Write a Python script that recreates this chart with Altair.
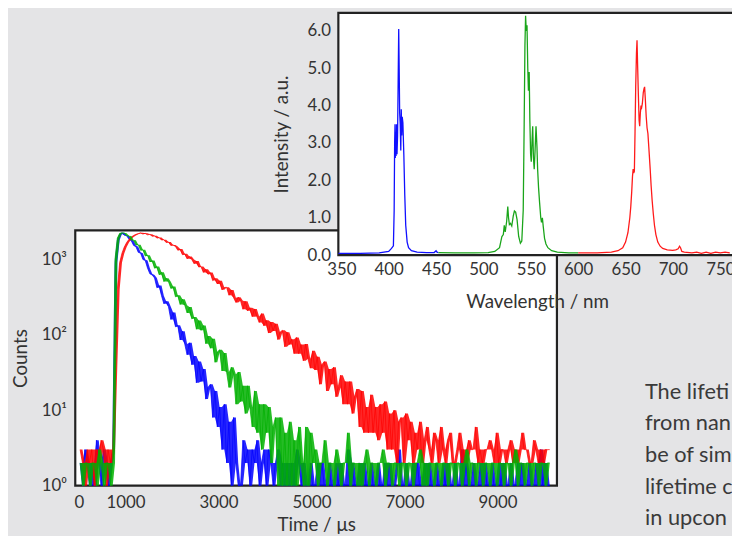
import altair as alt
import pandas as pd

# ---------------- decay curves (counts per channel) ----------------
T_START = 25      # first channel time, µs
T_STEP = 50       # channel width, µs

BLUE_COUNTS = [
    2, 1, 3, 2, 1, 2, 1, 4, 2, 1, 3, 2, 1, 2, 3,
    900, 1800, 2150, 2230, 2080, 2040, 1830, 1750, 1520, 1460, 1230, 1200, 990, 960, 760,
    639, 617, 564, 419, 448, 328, 257, 277, 234, 159,
    196, 127, 133, 85, 111, 75, 54, 78, 40, 52,
    23, 44, 24, 35, 14, 20, 22, 8, 18, 6,
    11, 3, 12, 2, 7, 1, 8, 2, 1,
    1, 4, 2, 3, 1, 3, 2, 4, 1, 2, 3, 1, 3, 2, 1, 2, 3, 1, 2, 1,
    2, 1, 2, 1, 3, 2, 1, 2, 1, 1, 2, 1, 1, 2, 1, 2, 1, 1, 2, 1,
    1, 2, 1, 2, 1, 1, 3, 1, 2, 1, 1, 2, 1, 2, 1, 1, 2, 1, 1, 2,
    1, 1, 2, 1, 2, 1, 1, 2, 3, 1, 1, 2, 1, 1, 2, 1, 2, 1, 1, 2,
    1, 2, 1, 1, 2, 1, 1, 2, 1, 2, 1, 1, 2, 1, 1, 3, 1, 2, 1, 1,
    2, 1, 1, 2, 1, 2, 1, 1, 2, 1, 1, 2, 1, 2, 1, 1, 2, 1, 1, 2,
    1, 2, 1, 1, 2, 1, 1, 2, 1, 3, 1, 2, 1, 1,
]

RED_COUNTS = [
    3, 2, 1, 3, 2, 3, 1, 3, 2, 4, 3, 1, 3, 2, 3,
    40, 400, 900, 1200, 1450, 1660, 1830, 1960, 2060, 2130, 2180,
    2230, 2150, 2200, 2100, 2130, 2010, 2040, 1900, 1930, 1790, 1810, 1660, 1690, 1520, 1540,
    1477, 1313, 1359, 1145, 1175, 1011, 1088, 993, 872, 944,
    786, 797, 668, 735, 632, 664, 520, 558, 469, 518,
    392, 421, 424, 333, 391, 309, 267, 314, 281, 217,
    276, 207, 227, 173, 219, 174, 145, 190, 131, 155,
    105, 147, 112, 139, 86, 108, 114, 69, 108, 74,
    87, 56, 92, 56, 74, 45, 75, 48, 36, 61,
    34, 51, 22, 40, 44, 18, 35, 22, 37, 15,
    20, 29, 12, 24, 12, 24, 9, 15, 19, 6,
    18, 5, 11, 5, 16, 5, 11, 4, 12, 5,
    13, 3, 9, 3, 10, 2, 7, 8, 2, 9,
    4, 7, 2, 5, 3, 7, 2, 4, 6, 3, 2, 5, 4, 2, 6, 3, 2, 4, 5, 2,
    2, 3, 5, 2, 3, 2, 4, 3, 3, 6, 2, 3, 2, 3, 3, 4, 3, 2, 5, 2,
    3, 3, 2, 3, 4, 2, 3, 2, 3, 5, 3, 3, 2, 2, 4, 3, 2, 3, 2, 3, 3, 3,
]

GREEN_COUNTS = [
    2, 1, 2, 2, 1, 2, 2, 1, 3, 2, 1, 2, 2, 1, 2,
    1000, 1900, 2200,
    2230, 2200, 2040, 2020, 1790, 1780, 1540, 1550, 1310, 1330,
    1100, 1130, 920, 960, 760, 800, 620, 670, 505, 560,
    503, 409, 433, 317, 333, 251, 294, 246, 194, 232,
    162, 171, 118, 154, 114, 132, 76, 96, 66, 88,
    43, 59, 63, 33, 57, 32, 20, 37, 30, 12,
    32, 13, 21, 9, 21, 11, 6, 18, 5, 12,
    3, 12, 5, 11, 2, 6, 8, 1, 8, 1,
    5, 1, 7, 1, 4, 1, 6, 2, 1, 6,
    1, 5,
    2, 3, 1, 2, 2, 4, 1, 2, 2, 1, 3, 2, 1, 2, 2, 5, 1, 2, 2, 1,
    2, 1, 2, 3, 1, 2, 2, 1, 2, 2, 3, 1, 2, 2, 1, 2, 2, 1, 2, 2,
    1, 2, 2, 1, 2, 2, 3, 1, 2, 1, 2, 2, 1, 2, 2, 1, 2, 2, 1, 2,
    2, 1, 2, 2, 1, 2, 3, 1, 2, 2, 1, 2, 2, 1, 2, 2, 1, 2, 2, 1,
    2, 2, 1, 2, 2, 1, 2, 3, 1, 2, 2, 1, 2, 2, 1, 2, 2, 1, 2, 2, 1, 2, 2,
]

DECAY_T_DOMAIN = [-80, 10280]
DECAY_C_DOMAIN = [1, 2400]
DECAY_T_TICKS = [0, 1000, 3000, 5000, 7000, 9000]
DECAY_C_TICKS = [1, 10, 100, 1000]

# ---------------- emission spectrum ----------------
BLUE_WL = [347, 370, 390, 400, 403, 405, 405.8, 406.3, 406.7, 407.0, 407.4, 407.8, 408.3, 408.8,
           409.4, 410.0, 410.6, 411.1, 411.6, 412.2, 412.8, 413.3, 413.8, 414.3, 415.0, 416.0,
           417.0, 418.0, 419.5, 421, 424, 430, 440, 448, 450, 451, 452.5]
BLUE_I = [0.05, 0.05, 0.06, 0.10, 0.18, 0.25, 1.2, 3.0, 3.5, 2.6, 3.3, 2.65, 3.5, 2.7,
          3.2, 4.6, 6.05, 5.0, 3.8, 3.5, 2.8, 3.9, 3.2, 3.7, 3.55, 2.7,
          1.6, 0.8, 0.35, 0.2, 0.12, 0.08, 0.07, 0.07, 0.12, 0.08, 0.07]

GREEN_WL = [452.5, 470, 490, 505, 512, 517, 519.5, 521.0, 522.0, 523.0, 524.5, 525.7, 526.5, 527.4,
            528.5, 529.9, 531.5, 532.7, 534, 535.5, 537.2, 539.0, 540.5, 542.0, 543.0, 543.8,
            544.5, 545.2, 546.0, 546.8, 547.5, 548.3, 549.0, 549.8, 550.5, 551.2, 552.0, 552.8,
            553.6, 554.5, 555.5, 556.5, 557.2, 558.2, 559.3, 560.5, 561.3, 562.2, 563.2, 564.5,
            566, 568, 572, 578, 590, 600]
GREEN_I = [0.07, 0.06, 0.06, 0.07, 0.1, 0.2, 0.5, 0.55, 0.8, 0.62, 0.9, 1.3, 1.0, 0.82,
           0.85, 0.78, 1.05, 1.18, 1.15, 0.95, 0.5, 0.32, 0.38, 1.2, 3.5, 5.6,
           6.4, 6.0, 6.15, 5.0, 4.4, 4.9, 3.6, 2.7, 2.5, 3.0, 3.45, 2.6,
           2.3, 2.8, 3.45, 2.9, 2.3, 1.8, 1.4, 1.0, 0.88, 1.0, 0.75, 0.45,
           0.3, 0.2, 0.12, 0.08, 0.06, 0.06]

RED_WL = [600, 620, 635, 642, 647, 650, 652.5, 654.5, 655.5, 656.5, 657.3, 658.0, 658.6, 659.3,
          660.0, 660.7, 661.5, 662.1, 662.8, 663.5, 664.3, 664.9, 665.6, 666.3, 667.0, 667.7,
          668.7, 669.5, 670.1, 670.8, 671.8, 672.7, 673.6, 674.5, 676.0, 677.0, 678.1, 679.3,
          680.5, 682, 684.0, 686.5, 689.2, 694, 699.7, 703, 705.5, 707.0, 708.0, 709.4,
          712, 720, 725, 730, 735, 740, 745, 750, 755, 760]
RED_I = [0.06, 0.06, 0.08, 0.12, 0.2, 0.35, 0.6, 1.0, 1.3, 1.7, 2.1, 2.3, 2.2, 2.25,
         3.3, 4.5, 5.4, 5.75, 5.0, 4.3, 3.6, 3.45, 3.8, 4.0, 3.95, 4.05,
         4.35, 4.45, 4.5, 4.2, 3.7, 3.4, 3.25, 2.9, 2.3, 1.85, 1.45, 1.1,
         0.8, 0.55, 0.35, 0.24, 0.18, 0.14, 0.13, 0.14, 0.17, 0.24, 0.2, 0.1,
         0.08, 0.06, 0.08, 0.05, 0.08, 0.05, 0.08, 0.06, 0.08, 0.06]

SPEC_WL_DOMAIN = [346.9, 766.5]
SPEC_I_DOMAIN = [0, 6.48]
SPEC_WL_TICKS = [350, 400, 450, 500, 550, 600, 650, 700, 750]
SPEC_I_TICKS = [0, 1, 2, 3, 4, 5, 6]

PARAGRAPH = ["The lifeti", "from nan", "be of sim", "lifetime c", "in upcon"]

# ---------------- layout (pixels inside the drawing) ----------------
W, H = 732, 528
DECAY_X_RANGE = [68, 555]
DECAY_Y_RANGE = [480, 222]
SPEC_X_RANGE = [334, 736]
SPEC_Y_RANGE = [247, 2]

FONT = "Lato"
TXT = "#333333"
FRAME = "#222222"

common_axis = dict(ticks=False, tickSize=0, domain=False, grid=False, zindex=1,
                   labelFlush=False, labelOverlap=False)

decay_x = alt.X("t:Q",
                scale=alt.Scale(domain=DECAY_T_DOMAIN, range=DECAY_X_RANGE, nice=False, zero=False),
                axis=alt.Axis(orient="bottom", offset=DECAY_Y_RANGE[0] - H, values=DECAY_T_TICKS,
                              format="d", title="Time / μs", labelPadding=9, titlePadding=5,
                              **common_axis))


def decay_y(field):
    return alt.Y(field + ":Q",
                 scale=alt.Scale(type="log", domain=DECAY_C_DOMAIN, range=DECAY_Y_RANGE, nice=False),
                 axis=alt.Axis(orient="left", offset=-DECAY_X_RANGE[0], values=DECAY_C_TICKS,
                               labelExpr="datum.value == 1 ? '10⁰' : datum.value == 10 ? '10¹' : datum.value == 100 ? '10²' : '10³'",
                               title="Counts", labelPadding=9, titlePadding=11, **common_axis))


def decay_df(counts):
    return pd.DataFrame({"t": [T_START + T_STEP * i for i in range(len(counts))], "c": counts})


decay_frame = alt.Chart(pd.DataFrame({
    "t": [DECAY_T_DOMAIN[0]], "t2": [DECAY_T_DOMAIN[1]],
    "c": [DECAY_C_DOMAIN[0]], "c2": [DECAY_C_DOMAIN[1]],
})).mark_rect(fill="white", stroke=FRAME, strokeWidth=2.2).encode(
    x=decay_x, x2="t2", y=decay_y("c"), y2="c2")


def decay_trace(counts, color):
    base = alt.Chart(decay_df(counts))
    # band spanned by each pair of neighbouring channels (the noise envelope)
    band = base.transform_window(
        lo="min(c)", hi="max(c)", frame=[-1, 0], sort=[alt.SortField("t")]
    ).mark_area(color=color, opacity=0.85, clip=True).encode(
        x=decay_x, y=decay_y("lo"), y2="hi")
    line = base.mark_line(color=color, strokeWidth=1, opacity=0.7, clip=True).encode(
        x=decay_x, y=decay_y("c"))
    return [band, line]


decay = alt.layer(
    decay_frame,
    *decay_trace(BLUE_COUNTS, "#0000ff"),
    *decay_trace(RED_COUNTS, "#ff0000"),
    *decay_trace(GREEN_COUNTS, "#00b000"),
)

spec_x = alt.X("wl:Q",
               scale=alt.Scale(domain=SPEC_WL_DOMAIN, range=SPEC_X_RANGE, nice=False, zero=False),
               axis=alt.Axis(orient="bottom", offset=SPEC_Y_RANGE[0] - H, values=SPEC_WL_TICKS,
                             format="d", title="Wavelength / nm", labelPadding=7, titlePadding=15,
                             **common_axis))
spec_y = alt.Y("inten:Q",
               scale=alt.Scale(domain=SPEC_I_DOMAIN, range=SPEC_Y_RANGE, nice=False, zero=False),
               axis=alt.Axis(orient="left", offset=-SPEC_X_RANGE[0], values=SPEC_I_TICKS,
                             format=".1f", title="Intensity / a.u.", labelPadding=8,
                             titlePadding=16, **common_axis))

spec_frame = alt.Chart(pd.DataFrame({
    "wl": [SPEC_WL_DOMAIN[0]], "wl2": [SPEC_WL_DOMAIN[1]],
    "inten": [SPEC_I_DOMAIN[0]], "inten2": [SPEC_I_DOMAIN[1]],
})).mark_rect(fill="white", stroke=FRAME, strokeWidth=2.2).encode(
    x=spec_x, x2="wl2", y=spec_y, y2="inten2")


def spec_line(wl, inten, color):
    return alt.Chart(pd.DataFrame({"wl": wl, "inten": inten})).mark_line(
        color=color, strokeWidth=1.3, clip=True).encode(x=spec_x, y=spec_y)


spec = alt.layer(
    spec_frame,
    spec_line(BLUE_WL, BLUE_I, "#1010ff"),
    spec_line(GREEN_WL, GREEN_I, "#1aa51a"),
    spec_line(RED_WL, RED_I, "#ff1a1a"),
)

para = alt.Chart(pd.DataFrame({"txt": ["\n".join(PARAGRAPH)]})).mark_text(
    align="left", baseline="alphabetic", lineBreak="\n", lineHeight=32,
    fontSize=22, font=FONT, color="#3a3a3a").encode(
    x=alt.value(644), y=alt.value(392), text="txt:N")

chart = alt.layer(decay, spec, para).resolve_scale(
    x="independent", y="independent"
).properties(
    width=W, height=H, padding=0,
    autosize=alt.AutoSizeParams(type="none"),
    background="#e4e4e6",
).configure_view(stroke=None).configure_axis(
    labelFont=FONT, titleFont=FONT, labelColor=TXT, titleColor=TXT,
    labelFontSize=17, titleFontSize=19, titleFontWeight="normal",
)

chart.save("out.html", embed_options={"renderer": "svg", "actions": False})
